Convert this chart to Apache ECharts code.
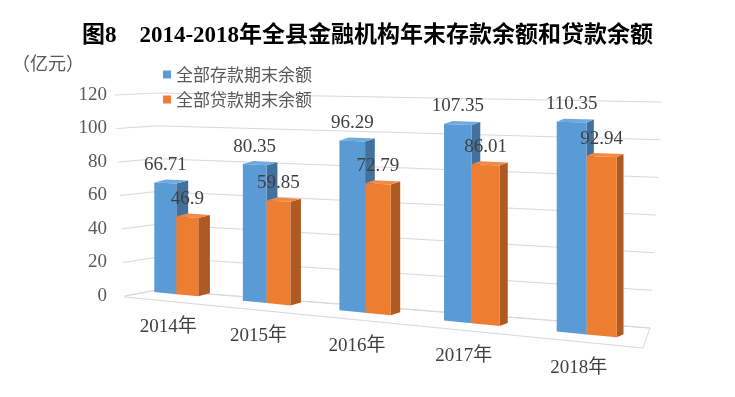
<!DOCTYPE html>
<html>
<head>
<meta charset="utf-8">
<script src="https://cdn.jsdelivr.net/npm/echarts@6/dist/echarts.min.js"></script>
<style>
html,body{margin:0;padding:0;background:#fff}
#main{width:735px;height:397px}
</style>
</head>
<body>
<div id="main"></div>
<script>
var years = ['2014年', '2015年', '2016年', '2017年', '2018年'];
var deposits = [66.71, 80.35, 96.29, 107.35, 110.35];
var loans = [46.9, 59.85, 72.79, 86.01, 92.94];
var yTicks = [0, 20, 40, 60, 80, 100, 120];

var FONT = '"Liberation Serif", "Noto Sans CJK SC", serif';
var CJK = '"Noto Sans CJK SC", sans-serif';

// perspective helpers, fitted to the picture (screen px)
function warpX(px, i) { return px + 4.1 * i * (i - 4); }
function barBase(x) { return 293 + (x - 164) * 0.098; }
function barScale(x) { return 0.985 + (x - 164) * 0.000382; }
function depthX(x) { return 12 - (x - 164) * 5 / 438; }
function floorFront(x) { return 297 + (x - 125) * 0.0985; }

function barItem(side, front, sideCol, topCol) {
    return function (params, api) {
        var i = api.value(0), v = api.value(1);
        var zero = api.coord([i, 0]);
        var h = zero[1] - api.coord([i, v])[1];
        var c = warpX(zero[0], i);
        var w = 22 + (c - 176) * 8 / 411;
        var x0 = side < 0 ? c - w : c, x1 = x0 + w;
        var b0 = barBase(x0), b1 = barBase(x1);
        var t0 = b0 - h * barScale(x0), t1 = b1 - h * barScale(x1);
        var d = depthX(x1), dy = 3;
        return {
            type: 'group',
            children: [
                { type: 'polygon', shape: { points: [[x1, b1], [x1 + d, b1 - dy], [x1 + d, t1 - dy], [x1, t1]] }, style: { fill: sideCol } },
                { type: 'polygon', shape: { points: [[x0, t0], [x1, t1], [x1 + d, t1 - dy], [x0 + d, t0 - dy]] }, style: { fill: topCol } },
                { type: 'polygon', shape: { points: [[x0, b0], [x1, b1], [x1, t1], [x0, t0]] }, style: { fill: front } },
                {
                    type: 'text', x: (x0 + x1) / 2, y: (t0 + t1) / 2 - 18, z2: 10,
                    style: { text: String(v), fill: '#404040', font: '19px ' + FONT, align: 'center', verticalAlign: 'middle' }
                }
            ]
        };
    };
}

function wallItem(params, api) {
    var v = api.value(0);
    var zero = api.coord([0, 0])[1];
    var h = zero - api.coord([0, v])[1];
    var L = params.coordSys.x;
    var line = {
        type: 'polyline',
        shape: { points: [[L - h * 0.05, zero - h], [L + 32, zero - 6 - h * 0.98], [L + 525 + h * 0.06, zero + 32 - h * 1.124]] },
        style: { stroke: '#d9d9d9', lineWidth: 1, fill: null }
    };
    if (v !== 0) return line;
    var floor = {
        type: 'polygon',
        shape: { points: [[L, zero], [L + 32, zero - 6], [L + 525, zero + 32], [L + 518, floorFront(L + 518)], [L, floorFront(L)]] },
        style: { fill: '#fff', stroke: '#d9d9d9', lineWidth: 1 }
    };
    return { type: 'group', children: [floor, line] };
}

function yearItem(params, api) {
    var i = api.value(0);
    var c = warpX(api.coord([i, 0])[0], i) - 8;
    return {
        type: 'text', x: c, y: floorFront(c) + 26,
        style: { text: years[i], fill: '#404040', font: '19px ' + FONT, align: 'center', verticalAlign: 'middle' }
    };
}

var chart = echarts.init(document.getElementById('main'));
chart.setOption({
    animation: false,
    backgroundColor: '#fff',
    title: {
        text: '图8　2014-2018年全县金融机构年末存款余额和贷款余额',
        left: 'center', top: 20,
        textStyle: { fontSize: 23, fontWeight: 'bold', color: '#000', fontFamily: FONT }
    },
    graphic: [{
        type: 'text', left: 12, top: 54,
        style: { text: '（亿元）', fill: '#595959', font: '18px ' + CJK }
    }],
    legend: {
        data: ['全部存款期末余额', '全部贷款期末余额'],
        orient: 'vertical', left: 158, top: 61,
        itemWidth: 8, itemHeight: 8, itemGap: 8, icon: 'rect',
        textStyle: { fontSize: 17, color: '#595959', fontFamily: CJK }
    },
    grid: { left: 125, right: 97, top: 95, bottom: 101 },
    xAxis: {
        type: 'category', data: years,
        axisLine: { show: false }, axisTick: { show: false }, axisLabel: { show: false }
    },
    yAxis: {
        type: 'value', min: 0, max: 120, interval: 20,
        axisLine: { show: false }, axisTick: { show: false }, splitLine: { show: false },
        axisLabel: { fontSize: 19, color: '#595959', fontFamily: FONT, margin: 18 }
    },
    series: [
        {
            type: 'custom', name: 'wall', silent: true, z: 1,
            renderItem: wallItem, data: yTicks.map(function (t) { return [t]; })
        },
        {
            type: 'custom', name: '全部存款期末余额', z: 2,
            itemStyle: { color: '#5B9BD5' },
            renderItem: barItem(-1, '#5B9BD5', '#41719C', '#6FA9DD'),
            data: deposits.map(function (v, i) { return [i, v]; })
        },
        {
            type: 'custom', name: '全部贷款期末余额', z: 3,
            itemStyle: { color: '#ED7D31' },
            renderItem: barItem(1, '#ED7D31', '#AE5A21', '#F08A45'),
            data: loans.map(function (v, i) { return [i, v]; })
        },
        {
            type: 'custom', name: 'years', silent: true, z: 4,
            renderItem: yearItem, data: years.map(function (y, i) { return [i]; })
        }
    ]
});
</script>
</body>
</html>
